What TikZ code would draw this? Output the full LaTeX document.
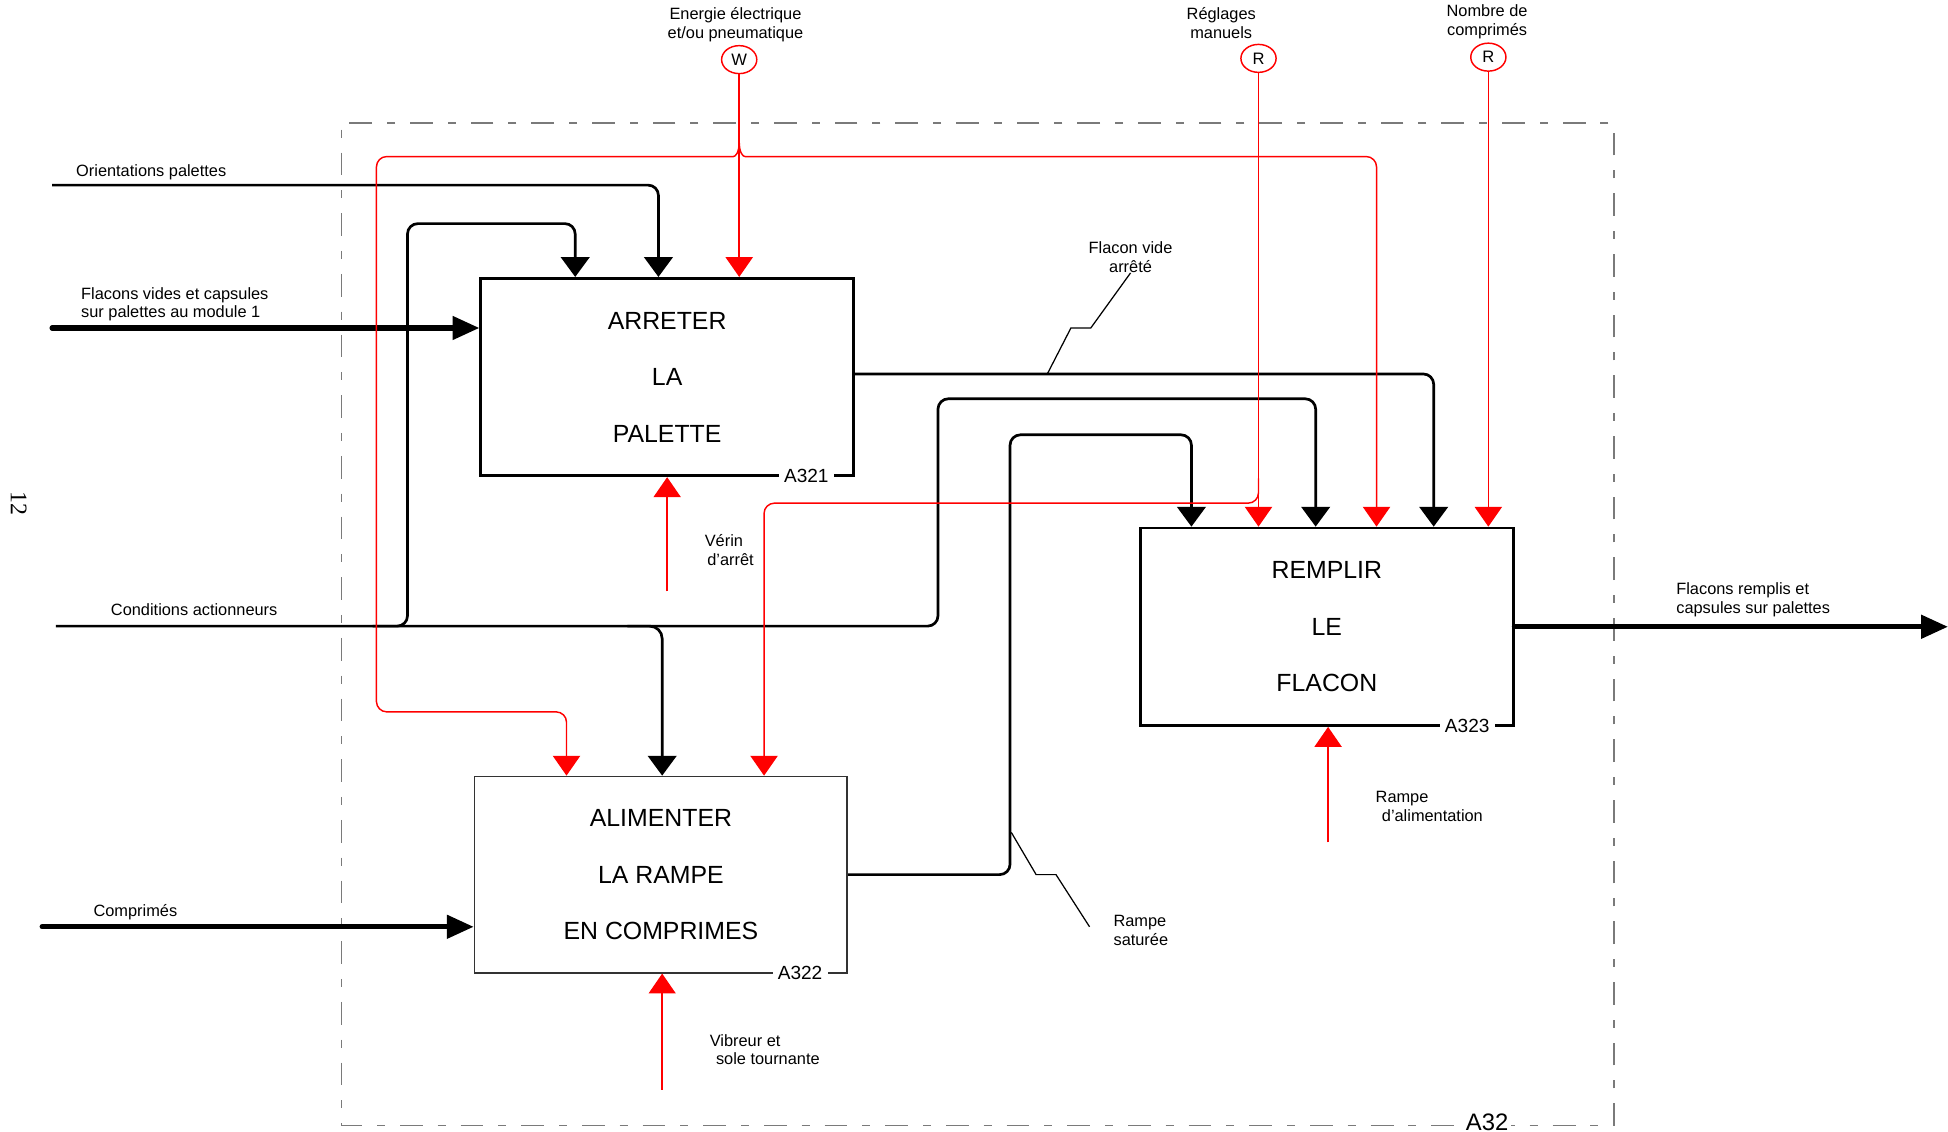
\documentclass[tikz,border=0pt]{standalone}
\usepackage{fontspec}
\setmainfont{Liberation Sans}
\newfontfamily\serifnum{Liberation Serif}
\usetikzlibrary{arrows.meta,shapes.geometric}
\definecolor{frameg}{HTML}{7A7A7A}
\definecolor{idefred}{HTML}{FF0000}
\begin{document}
\begin{tikzpicture}[x=0.6pt,y=-0.6pt,
  fbox/.style={draw=black,line width=1.3pt,minimum width=180pt,minimum height=95.4pt,inner sep=0pt,align=center,font=\fontsize{12}{27.3}\selectfont},
  boxid/.style={fill=white,inner xsep=2.5pt,inner ysep=1pt,font=\fontsize{9.2}{10}\selectfont},
  tunnel/.style={ellipse,draw=idefred,line width=0.7pt,minimum width=17pt,minimum height=13.5pt,inner sep=0pt,font=\fontsize{8}{9}\selectfont},
  lbl/.style={font=\fontsize{7.9}{9}\selectfont,inner sep=0pt},
  ctl/.style={line width=1.3pt,-{Triangle[width=13.8pt,length=9.6pt]}},
  thk/.style={line width=2.6pt,line cap=round,-{Triangle[width=11pt,length=13pt]}},
  rdarr/.style={color=idefred,line width=0.7pt,-{Triangle[width=13.2pt,length=9.6pt]}},
  mech/.style={color=idefred,line width=0.9pt,-{Triangle[width=13pt,length=9.6pt]}},
  lead/.style={line width=0.6pt},
  frame/.style={draw=frameg,line width=0.8pt,dash pattern=on 11pt off 7.2pt on 3.9pt off 7.2pt,dash phase=15pt}
]
\useasboundingbox (0,0) rectangle (1568,911);

% outer frame
\draw[frame] (275,99) rectangle (1299,906);

% activity boxes
\node[fbox] (A321) at (537,303.5) {ARRETER\\LA\\PALETTE};
\node[fbox,draw=black!80,line width=0.8pt,minimum height=94.8pt] (A322) at (532,704) {ALIMENTER\\LA RAMPE\\EN COMPRIMES};
\node[fbox] (A323) at (1068,504.5) {REMPLIR\\LE\\FLACON};

% tunnels
\node[tunnel] (W) at (595,48) {W};
\node[tunnel] (R1) at (1013,47) {R};
\node[tunnel] (R2) at (1198,46) {R};

% labels
\node[lbl,align=center] (lW) at (592,20) {Energie électrique\\et/ou pneumatique};
\node[lbl,align=center] (lR1) at (983,18.5) {Réglages\\manuels};
\node[lbl,align=center] (lR2) at (1197,17.5) {Nombre de\\comprimés};
\node[lbl,anchor=west] (lOr) at (61,139) {Orientations palettes};
\node[lbl,anchor=west,align=left] (lFv) at (65,245) {Flacons vides et capsules\\sur palettes au module 1};
\node[lbl,anchor=west] (lCa) at (89,491) {Conditions actionneurs};
\node[lbl,anchor=west] (lCp) at (75,734) {Comprimés};
\node[lbl,align=center] (lFva) at (910,207) {Flacon vide\\arrêté};
\node[lbl,anchor=west,align=left] (lVe) at (567,443) {Vérin\\\hspace*{1.2pt}d'arrêt};
\node[lbl,anchor=west,align=left] (lVi) at (571,845) {Vibreur et\\\hspace*{3pt}sole tournante};
\node[lbl,anchor=west,align=left] (lRa) at (1107,649) {Rampe\\\hspace*{3pt}d'alimentation};
\node[lbl,anchor=west,align=left] (lRs) at (896,749) {Rampe\\saturée};
\node[lbl,anchor=west,align=left] (lFr) at (1349,483) {Flacons remplis et\\capsules sur palettes};
\node[font=\serifnum\fontsize{11.5}{13}\selectfont,rotate=-90] (pg) at (15,405) {12};

% inputs / outputs
\coordinate (fvS) at (42,264);
\draw[thk] (fvS) -- (A321.west |- fvS);
\coordinate (cpS) at (34,746);
\draw[thk] (cpS) -- (A322.west |- cpS);
\coordinate (frE) at (1568,504.5);
\draw[thk] (A323.east) -- (frE);

% black controls
\coordinate (orS) at (42,149);
\draw[ctl,rounded corners=5pt] (orS) -- (530,149) -- (530,0 |- A321.north);
\coordinate (caS) at (45,504);
\draw[ctl,rounded corners=5pt] (caS) -- (755,504) -- (755,321) -- (1059,321) -- (1059,0 |- A323.north);
\coordinate (caJ1) at (300,504);
\draw[ctl,rounded corners=5pt] (caJ1) -- (328,504) -- (328,180) -- (463,180) -- (463,0 |- A321.north);
\coordinate (caJ2) at (505,504);
\draw[ctl,rounded corners=6pt] (caJ2) -- (533,504) -- (533,0 |- A322.north);
\draw[ctl,rounded corners=5pt] (A321.east |- 0,301) -- (1154,301) -- (1154,0 |- A323.north);
\draw[ctl,rounded corners=5pt] (A322.east) -- (813,704) -- (813,350) -- (959,350) -- (959,0 |- A323.north);

% red controls
\draw[rdarr] (W.south) -- (595,0 |- A321.north);
\coordinate (Wj) at (595,114);
\draw[rdarr,rounded corners=5pt] (Wj) .. controls (595,123) and (592,126) .. (582,126) -- (303,126) -- (303,573) -- (456,573) -- (456,0 |- A322.north);
\draw[rdarr,rounded corners=5pt] (Wj) .. controls (595,123) and (598,126) .. (608,126) -- (1108,126) -- (1108,0 |- A323.north);
\draw[rdarr] (R1.south) -- (1013,0 |- A323.north);
\coordinate (R1j) at (1013,385);
\draw[rdarr,rounded corners=5pt] (R1j) -- (1013,405) -- (615,405) -- (615,0 |- A322.north);
\draw[rdarr] (R2.south) -- (1198,0 |- A323.north);

% mechanisms
\coordinate (veS) at (537,476);
\draw[mech] (veS) -- (537,0 |- A321.south);
\coordinate (viS) at (533,877);
\draw[mech] (viS) -- (533,0 |- A322.south);
\coordinate (raS) at (1069,678);
\draw[mech] (raS) -- (1069,0 |- A323.south);

% leaders
\draw[lead] (lFva.south) -- (878,264) -- (862,264) -- (843,301);
\coordinate (rsL) at (877,746);
\draw[lead] (814,670) -- (834,704) -- (850,704) -- (rsL);

% box ids
\node[boxid] (id321) at (649,383) {A321};
\node[boxid] (id322) at (644,783) {A322};
\node[boxid] (id323) at (1181,584) {A323};
\node[fill=white,inner sep=1.5pt,font=\fontsize{11.5}{12}\selectfont] (A32) at (1197,903) {A32};
\end{tikzpicture}
\end{document}
